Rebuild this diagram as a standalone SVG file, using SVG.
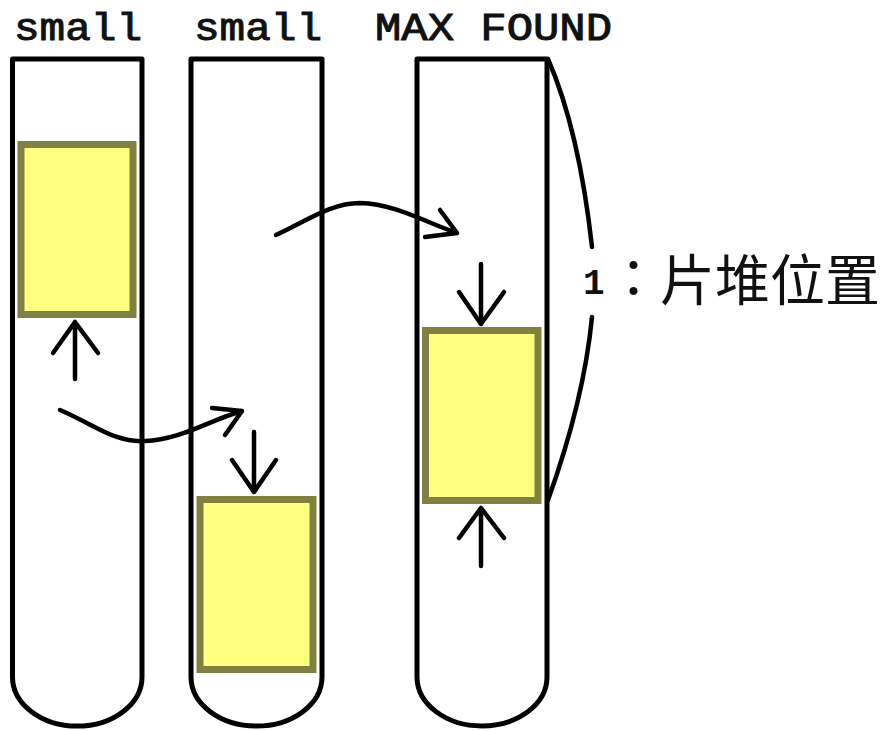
<svg xmlns="http://www.w3.org/2000/svg" width="887" height="731" viewBox="0 0 887 731">
<style>
.tube{fill:none;stroke:#000;stroke-width:5;stroke-linejoin:round}
.box{fill:#ffff80;stroke:#808040;stroke-width:7}
.ln{fill:none;stroke:#000;stroke-width:4.5;stroke-linecap:round;stroke-linejoin:round}
.lbl{font-family:"Liberation Mono","Courier New",monospace;font-weight:normal;font-size:38px;fill:#111;stroke:#111;stroke-width:1}
.cjk{font-family:"Noto Sans CJK SC",sans-serif;font-size:55px;fill:#111}
</style>
<rect width="887" height="731" fill="#fff"/>
<g id="tube1">
<path class="tube" d="M12.5,677 L12.5,59 L142,59 L142,677 A64.75,49 0 0 1 12.5,677 Z"/>
<rect class="box" x="21" y="144.5" width="112" height="170"/>
<text class="lbl" x="14" y="40" textLength="128" lengthAdjust="spacingAndGlyphs">small</text>
</g>
<g id="tube2">
<path class="tube" d="M191,677 L191,59 L322,59 L322,677 A65.5,49 0 0 1 191,677 Z"/>
<rect class="box" x="200" y="499.5" width="113" height="170"/>
<text class="lbl" x="194" y="40" textLength="128" lengthAdjust="spacingAndGlyphs">small</text>
</g>
<g id="tube3">
<path class="tube" d="M417,677 L417,59 L547,59 L547,677 A65,49 0 0 1 417,677 Z"/>
<rect class="box" x="425.5" y="330.5" width="112.5" height="170"/>
<text class="lbl" x="375" y="40" textLength="237" lengthAdjust="spacingAndGlyphs">MAX FOUND</text>
</g>
<g id="connectors">
<path class="ln" d="M75,379 L75,322 M53,353 L75,322 L98,353"/>
<path class="ln" d="M254,432 L254,492 M232,460 L254,492 L276,460"/>
<path class="ln" d="M481,264 L481,324 M459,292 L481,324 L504,292"/>
<path class="ln" d="M481,566 L481,508 M459,538 L481,508 L504,538"/>
<path class="ln" d="M60,410 C95,425 115,443 145,441 C180,440 210,420 242,411 M212,408 L242,411 L225,435"/>
<path class="ln" d="M276,235 C305,222 330,203 360,203 C395,204 425,222 457,233 M440,210 L457,233 L425,237"/>
<path class="ln" d="M548,59 Q579,130 592,247"/>
<path class="ln" d="M592,317 Q584,400 548,500"/>
</g>
<g id="label">
<text y="294" style="font-family:'Liberation Mono','Noto Sans CJK SC',monospace;font-size:36px;font-weight:bold;fill:#111"><tspan x="583">1</tspan><tspan x="607" y="298" style="font-family:'Noto Sans CJK JP',sans-serif;font-size:53px;font-weight:normal">：</tspan><tspan class="cjk" x="660" y="300" style="font-weight:normal">片堆位置</tspan></text>
</g>
</svg>
